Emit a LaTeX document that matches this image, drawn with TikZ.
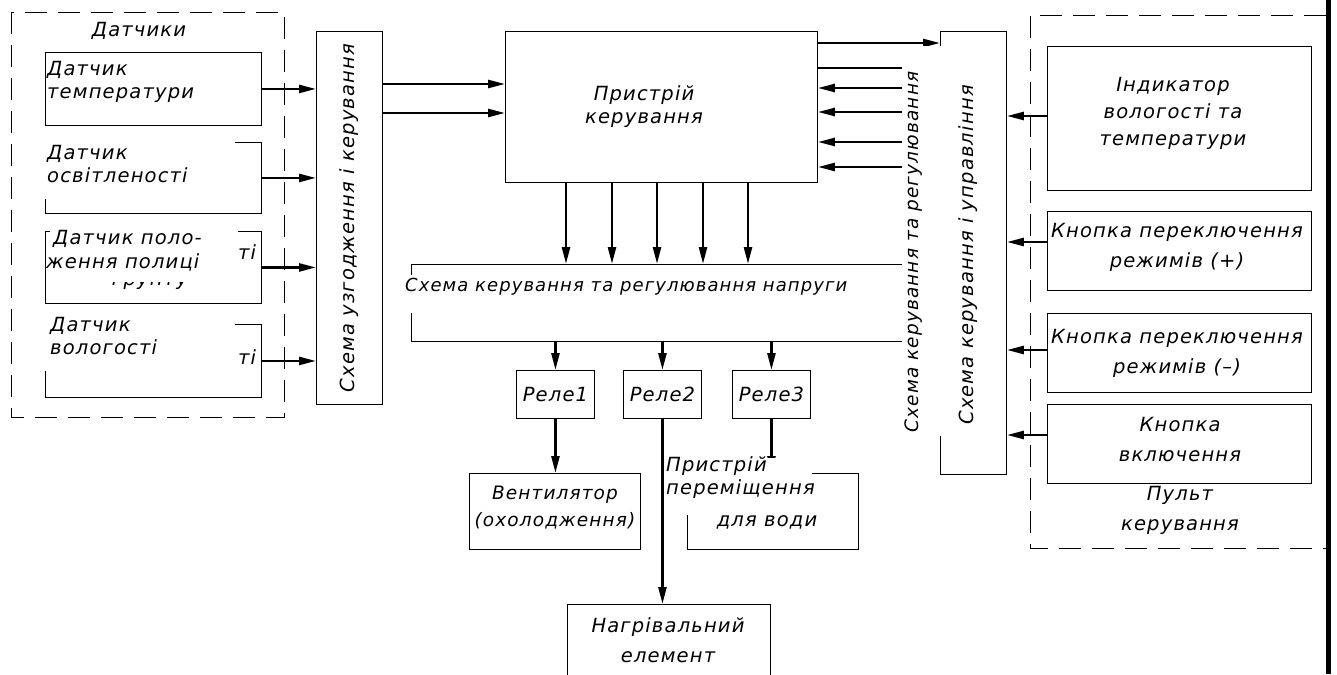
\documentclass[tikz,border=0pt]{standalone}
\usepackage{fontspec}
\setmainfont{DejaVu Sans}[LetterSpace=6]
\usetikzlibrary{arrows.meta}
\begin{document}
\begin{tikzpicture}[x=1pt,y=-1pt,
  font=\itshape\fontsize{19.5}{23}\selectfont,
  box/.style={draw, line width=0.9pt, anchor=north west, inner sep=0pt},
  arr/.style={line width=2.5pt, -{Triangle[length=17pt,width=8pt]}},
  plain/.style={line width=2.5pt},
  dashbox/.style={draw, line width=0.9pt, dash pattern=on 22pt off 11pt},
  txt/.style={inner sep=0pt, align=center},
  ltxt/.style={inner sep=0pt, align=left, anchor=west},
  wide/.style={font=\itshape\fontsize{19.5}{30}\selectfont},
  cover/.style={fill=white, draw=none}]
\useasboundingbox (0,0) rectangle (1337,674);

% dashed groups
\draw[dashbox] (11,12) rectangle (284,417);
\draw[dashbox] (1326,15) -- (1030,15) -- (1030,548) -- (1326,548);
\fill (1326,0) rectangle (1331,674);

% boxes
\node[box, minimum width=216pt, minimum height=73pt] (s1) at (45,52) {};
\node[box, minimum width=216pt, minimum height=71pt] (s2) at (45,142) {};
\node[box, minimum width=216pt, minimum height=72pt] (s3) at (45,231) {};
\node[box, minimum width=216pt, minimum height=73pt] (s4) at (45,324) {};
\node[box, minimum width=66pt, minimum height=373pt] (uz) at (316,31) {};
\node[box, minimum width=312pt, minimum height=151pt] (pk) at (505,31) {};
\node[box, minimum width=494pt, minimum height=77pt] (np) at (411,264) {};
\node[box, minimum width=78pt, minimum height=48pt] (r1) at (516,370) {};
\node[box, minimum width=78pt, minimum height=48pt] (r2) at (623,370) {};
\node[box, minimum width=78pt, minimum height=48pt] (r3) at (732,370) {};
\node[box, minimum width=171pt, minimum height=76pt] (vent) at (469,473) {};
\node[box, minimum width=203pt, minimum height=90pt] (nagr) at (567,604) {};
\node[box, minimum width=171pt, minimum height=76pt] (pp) at (687,473) {};
\node[box, minimum width=66pt, minimum height=443pt] (su) at (940,31) {};
\node[box, minimum width=264pt, minimum height=144pt] (ind) at (1047,46) {};
\node[box, minimum width=264pt, minimum height=79pt] (kp) at (1047,211) {};
\node[box, minimum width=264pt, minimum height=79pt] (km) at (1047,313) {};
\node[box, minimum width=264pt, minimum height=79pt] (kv) at (1047,404) {};

% helper coordinates
\coordinate (ya) at (0,84);
\coordinate (yb) at (0,113);
\coordinate (o1) at (905,43);
\coordinate (o2) at (905,68);
\coordinate (i1) at (905,88);
\coordinate (i2) at (905,112);
\coordinate (i3) at (905,142);
\coordinate (i4) at (905,167);
\coordinate (d1) at (566,0);
\coordinate (d2) at (612,0);
\coordinate (d3) at (657,0);
\coordinate (d4) at (703,0);
\coordinate (d5) at (748,0);
\coordinate (rk1) at (0,116);
\coordinate (rk2) at (0,242);
\coordinate (rk3) at (0,350);
\coordinate (rk4) at (0,435);

% connectors
\draw[arr] (s1.east) -- (s1.east -| uz.west);
\draw[arr] (s2.east) -- (s2.east -| uz.west);
\draw[arr] (s3.east) -- (s3.east -| uz.west);
\draw[arr] (s4.east) -- (s4.east -| uz.west);
\draw[arr] (ya -| uz.east) -- (ya -| pk.west);
\draw[arr] (yb -| uz.east) -- (yb -| pk.west);
\draw[arr] (o1 -| pk.east) -- (o1 -| su.west);
\draw[plain] (o2 -| pk.east) -- (o2);
\draw[arr] (i1) -- (i1 -| pk.east);
\draw[arr] (i2) -- (i2 -| pk.east);
\draw[arr] (i3) -- (i3 -| pk.east);
\draw[arr] (i4) -- (i4 -| pk.east);
\foreach \d in {d1,d2,d3,d4,d5}
  \draw[arr] (\d |- pk.south) -- (\d |- np.north);
\draw[arr] (r1.north |- np.south) -- (r1.north);
\draw[arr] (r2.north |- np.south) -- (r2.north);
\draw[arr] (r3.north |- np.south) -- (r3.north);
\draw[arr] (r1.south) -- (r1.south |- vent.north);
\draw[arr] (r2.south) -- (r2.south |- nagr.north);
\draw[arr] (r3.south) -- (r3.south |- pp.north);
\draw[arr] (rk1 -| ind.west) -- (rk1 -| su.east);
\draw[arr] (rk2 -| kp.west) -- (rk2 -| su.east);
\draw[arr] (rk3 -| km.west) -- (rk3 -| su.east);
\draw[arr] (rk4 -| kv.west) -- (rk4 -| su.east);

% partly covered text
\node[txt] (gr) at (150,281) {ґрунту};

% white covers
\fill[white] (43,139) rectangle (235,199);
\fill[white] (50,228) rectangle (238,282);
\fill[white] (43,321) rectangle (235,371);
\fill[white] (403,275) rectangle (850,313);
\fill[white] (902,46) rectangle (988,436);
\fill[white] (664,458) rectangle (812,515);

% texts
\node[txt] (t0) at (139,31) {Датчики};
\node[ltxt] (t1) at (47,82) {Датчик\\температури};
\node[ltxt] (t2) at (47,164) {Датчик\\освітленості};
\node[ltxt] (t3a) at (53,239) {Датчик поло-};
\node[ltxt] (t3b) at (46,262) {ження полиці};
\node[txt] (t3c) at (247,252) {ті};
\node[ltxt] (t4) at (50,336) {Датчик\\вологості};
\node[txt] (t4c) at (247,357) {ті};
\node[txt, rotate=90] (tuz) at (349,218) {Схема  узгодження  і  керування};
\node[txt] (tpk) at (644,107) {Пристрій\\керування};
\node[ltxt, font=\itshape\fontsize{18}{22}\selectfont] (tnp) at (405,287) {Схема керування та регулювання напруги};
\node[txt, rotate=90, font=\itshape\fontsize{18.5}{22}\selectfont] (tsr) at (914,252) {Схема керування та регулювання};
\node[txt, rotate=90] (tsu) at (968,255) {Схема  керування  і  управління};
\node[txt] at (r1) {Реле1};
\node[txt] at (r2) {Реле2};
\node[txt] at (r3) {Реле3};
\node[txt, font=\itshape\fontsize{18.5}{27}\selectfont] (tv) at (555,508) {Вентилятор\\(охолодження)};
\node[ltxt] (tpp) at (666,478) {Пристрій\\переміщення};
\node[txt] (tpp2) at (767,522) {для води};
\node[txt, wide] (tng) at (668,640) {Нагрівальний\\елемент};
\node[txt, font=\itshape\fontsize{19.5}{27}\selectfont] (tind) at (1173,113) {Індикатор\\вологості та\\температури};
\node[txt, wide] (tkp) at (1177,247) {Кнопка  переключення\\режимів (+)};
\node[txt, wide] (tkm) at (1177,353) {Кнопка  переключення\\режимів (–)};
\node[txt, wide] (tkv) at (1180,440) {Кнопка\\включення};
\node[txt, wide] (tpu) at (1180,510) {Пульт\\керування};
\end{tikzpicture}
\end{document}
